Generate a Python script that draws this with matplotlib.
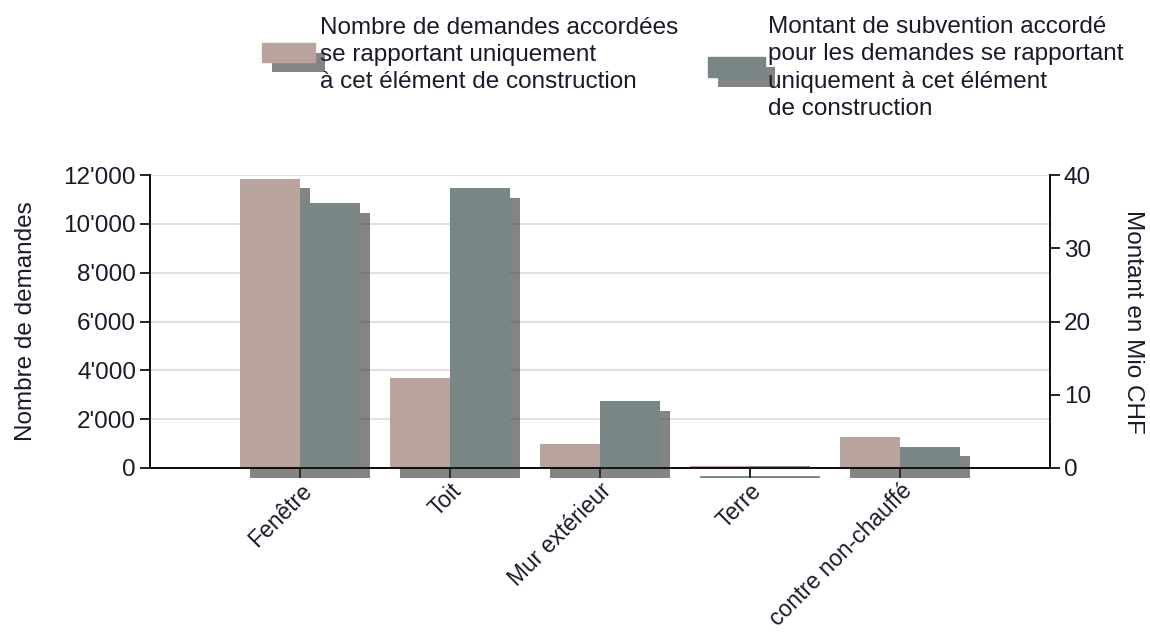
import matplotlib
matplotlib.use('Agg')
import matplotlib.pyplot as plt
import matplotlib.patheffects as pe
from matplotlib.patches import Rectangle
from matplotlib.ticker import FuncFormatter
import numpy as np

# data
categories = ["Fenêtre", "Toit", "Mur extérieur", "Terre", "contre non-chauffé"]
nb_demandes = [11850, 3700, 1000, 80, 1250]
montant_mio = [36.2, 38.2, 9.1, 0.3, 2.9]

label_nb = "Nombre de demandes accordées\nse rapportant uniquement\nà cet élément de construction"
label_mt = "Montant de subvention accordé\npour les demandes se rapportant\nuniquement à cet élément\nde construction"

brown = "#b8a49c"
grey = "#788785"
txt = "#1a1a2a"
fs = 17.5

plt.rcParams['font.family'] = ['Liberation Sans', 'DejaVu Sans']

W, H = 1150, 634
fig = plt.figure(figsize=(W / 100, H / 100), dpi=100)
ax = fig.add_axes([150 / W, 1 - 468 / H, 900 / W, 293 / H])
ax2 = ax.twinx()

shadow = [pe.SimplePatchShadow(offset=(7, -7), shadow_rgbFace="#333333", alpha=0.6), pe.Normal()]

x = np.arange(1, len(categories) + 1)
bw = 0.4
ax.bar(x - bw / 2, nb_demandes, bw, color=brown, path_effects=shadow, clip_on=False, zorder=1)
ax2.bar(x + bw / 2, montant_mio, bw, color=grey, path_effects=shadow, clip_on=False, zorder=1)

ax.set_xlim(0, 6)
ax.set_ylim(0, 12000)
ax2.set_ylim(0, 40)
ax.set_yticks(np.arange(0, 12001, 2000))
ax2.set_yticks(np.arange(0, 41, 10))
ax.yaxis.set_major_formatter(FuncFormatter(lambda v, p: f"{int(v):,}".replace(",", "'")))
ax.grid(axis='y', color="#dcdcdc", lw=1.2)
ax.set_axisbelow(True)

ax.set_xticks(x)
ax.set_xticklabels(categories, rotation=45, ha='right', rotation_mode='anchor')

for a in (ax, ax2):
    a.spines['top'].set_visible(False)
    for s in ('left', 'right', 'bottom'):
        a.spines[s].set_color('#111111')
        a.spines[s].set_linewidth(1.3)
    a.tick_params(length=7, width=1.3, color='#111111', labelsize=fs, labelcolor=txt, pad=3)
ax.tick_params(axis='x', pad=1, labelsize=16.5)

ax.set_ylabel("Nombre de demandes", fontsize=fs, color=txt, labelpad=19)
ax2.set_ylabel("Montant en Mio CHF", fontsize=fs, color=txt, rotation=270, labelpad=38)

# legend drawn by hand: shadowed swatch + multi-line text
def legend_item(x0, y0, w, h, color, tx, ty, text):
    r = Rectangle((x0 / W, 1 - (y0 + h) / H), w / W, h / H, transform=fig.transFigure,
                  color=color, path_effects=shadow)
    fig.add_artist(r)
    fig.text(tx / W, 1 - ty / H, text, fontsize=fs, color=txt, ha='left', va='center', linespacing=1.3)

legend_item(262, 43, 53, 19, brown, 320, 55, label_nb)
legend_item(708, 57, 57, 20, grey, 768, 68, label_mt)

fig.savefig("out.png", dpi=100)
